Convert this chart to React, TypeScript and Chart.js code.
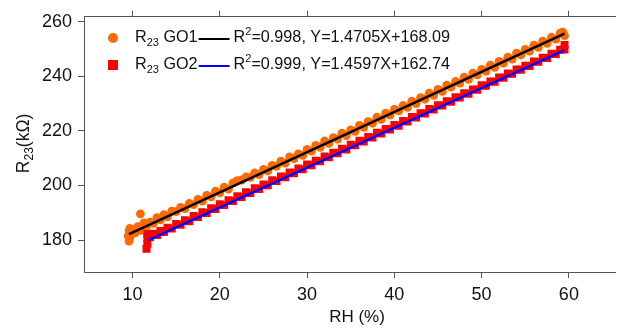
import React, { useEffect, useRef } from "react";
import { Chart, registerables } from "chart.js";

Chart.register(...registerables);

// ---- data ----
const rhGO1 = [9.5, 9.6, 9.6, 9.7, 9.7, 9.8, 10.0, 10.3, 10.6, 10.9, 11.0, 11.3, 11.6, 12.0, 12.4, 12.8, 13.2, 13.6, 14.0, 14.5, 15.0, 15.5, 16.0, 16.5, 17.0, 17.5, 18.0, 18.5, 19.0, 19.5, 20.0, 20.5, 21.0, 21.5, 22.0, 22.5, 23.0, 23.5, 24.0, 24.5, 25.0, 25.5, 26.0, 26.5, 27.0, 27.5, 28.0, 28.5, 29.0, 29.5, 30.0, 30.5, 31.0, 31.5, 32.0, 32.5, 33.0, 33.5, 34.0, 34.5, 35.0, 35.5, 36.0, 36.5, 37.0, 37.5, 38.0, 38.5, 39.0, 39.5, 40.0, 40.5, 41.0, 41.5, 42.0, 42.5, 43.0, 43.5, 44.0, 44.5, 45.0, 45.5, 46.0, 46.5, 47.0, 47.5, 48.0, 48.5, 49.0, 49.5, 50.0, 50.5, 51.0, 51.5, 52.0, 52.5, 53.0, 53.5, 54.0, 54.5, 55.0, 55.5, 56.0, 56.5, 57.0, 57.5, 58.0, 58.5, 59.0, 59.3, 59.5];
const r23GO1 = [181.5, 179.6, 183.4, 181.0, 184.3, 182.4, 183.3, 182.6, 184.9, 189.6, 183.6, 186.3, 185.0, 186.6, 186.1, 188.2, 187.4, 189.3, 188.5, 190.6, 190.4, 192.0, 191.5, 193.4, 193.0, 194.9, 194.3, 196.4, 195.8, 197.9, 197.3, 199.4, 198.7, 200.9, 201.8, 202.0, 203.1, 203.0, 204.6, 204.0, 205.9, 205.3, 207.4, 207.0, 208.9, 208.2, 210.5, 209.8, 211.6, 211.0, 213.2, 212.6, 214.7, 214.0, 216.3, 215.4, 217.5, 217.0, 219.2, 218.3, 220.4, 219.8, 222.0, 221.3, 223.4, 222.8, 225.0, 224.2, 226.5, 225.8, 227.9, 227.3, 229.3, 228.6, 230.9, 230.0, 232.2, 231.6, 233.8, 233.0, 235.2, 234.5, 236.8, 236.0, 238.1, 237.5, 239.7, 238.9, 241.2, 240.5, 242.5, 241.9, 244.1, 243.3, 245.5, 244.8, 247.0, 246.3, 248.5, 247.8, 249.9, 249.2, 251.4, 250.6, 252.9, 252.1, 254.3, 253.6, 255.8, 256.2, 254.9];

const rhGO2 = [11.6, 11.7, 11.7, 11.7, 12.0, 12.4, 12.8, 13.2, 13.6, 14.0, 14.5, 15.0, 15.5, 16.0, 16.5, 17.0, 17.5, 18.0, 18.5, 19.0, 19.5, 20.0, 20.5, 21.0, 21.5, 22.0, 22.5, 23.0, 23.5, 24.0, 24.5, 25.0, 25.5, 26.0, 26.5, 27.0, 27.5, 28.0, 28.5, 29.0, 29.5, 30.0, 30.5, 31.0, 31.5, 32.0, 32.5, 33.0, 33.5, 34.0, 34.5, 35.0, 35.5, 36.0, 36.5, 37.0, 37.5, 38.0, 38.5, 39.0, 39.5, 40.0, 40.5, 41.0, 41.5, 42.0, 42.5, 43.0, 43.5, 44.0, 44.5, 45.0, 45.5, 46.0, 46.5, 47.0, 47.5, 48.0, 48.5, 49.0, 49.5, 50.0, 50.5, 51.0, 51.5, 52.0, 52.5, 53.0, 53.5, 54.0, 54.5, 55.0, 55.5, 56.0, 56.5, 57.0, 57.5, 58.0, 58.5, 59.0, 59.5, 59.5];
const r23GO2 = [176.8, 178.6, 180.8, 182.2, 181.0, 182.3, 181.8, 183.3, 182.9, 184.5, 184.2, 185.9, 185.6, 187.3, 186.9, 188.8, 188.4, 190.2, 189.9, 191.7, 191.4, 193.1, 192.8, 194.6, 194.3, 196.1, 195.8, 197.5, 197.2, 199.0, 198.7, 200.4, 200.1, 201.9, 201.6, 203.3, 203.0, 204.8, 204.5, 206.2, 205.9, 207.7, 207.4, 209.1, 208.9, 210.6, 210.3, 212.0, 211.8, 213.5, 213.2, 214.9, 214.7, 216.4, 216.1, 217.8, 217.6, 219.3, 219.0, 220.7, 220.5, 222.2, 221.9, 223.6, 223.4, 225.1, 224.9, 226.5, 226.4, 228.0, 227.8, 229.4, 229.3, 230.9, 230.7, 232.3, 232.2, 233.8, 233.6, 235.2, 235.1, 236.7, 236.5, 238.1, 238.0, 239.6, 239.5, 241.0, 240.9, 242.5, 242.4, 243.9, 243.8, 245.4, 245.3, 246.8, 246.7, 248.3, 248.2, 249.7, 251.5, 249.8];

// fitted lines (end points)
const fitGO1X = [9.6, 59.5];
const fitGO1Y = [182.2, 255.6];
const fitGO2X = [11.8, 59.5];
const fitGO2Y = [180.0, 249.6];

const xTicks = [10, 20, 30, 40, 50, 60];
const yTicks = [180, 200, 220, 240, 260];
const xMin = 4.44;
const xMax = 65.33;
const yMin = 168.3;
const yMax = 261.8;

const legendRows = [
  { name: "GO1", fit: "=0.998, Y=1.4705X+168.09" },
  { name: "GO2", fit: "=0.999, Y=1.4597X+162.74" },
];

const FONT = "'Liberation Sans', Arial, sans-serif";
const ORANGE = "#ff6a00";
const RED = "#ff0000";
const BLUE = "#0000ff";
const AXIS = "#555555";

type Part = { t: string; m?: "sub" | "sup" };

function measureRich(ctx: CanvasRenderingContext2D, parts: Part[], size: number) {
  let w = 0;
  for (const p of parts) {
    const s = p.m ? Math.round(size * 0.68) : size;
    ctx.font = `${s}px ${FONT}`;
    w += ctx.measureText(p.t).width;
  }
  return w;
}

function drawRich(ctx: CanvasRenderingContext2D, x: number, y: number, parts: Part[], size: number) {
  ctx.textBaseline = "middle";
  ctx.textAlign = "left";
  let cx = x;
  for (const p of parts) {
    const s = p.m ? Math.round(size * 0.68) : size;
    ctx.font = `${s}px ${FONT}`;
    const dy = p.m === "sub" ? size * 0.32 : p.m === "sup" ? -size * 0.36 : 0;
    ctx.fillText(p.t, cx, y + dy);
    cx += ctx.measureText(p.t).width;
  }
  return cx;
}

const decorPlugin = {
  id: "decor",
  afterDraw(chart: any) {
    const ctx: CanvasRenderingContext2D = chart.ctx;
    const area = chart.chartArea;
    ctx.save();
    ctx.fillStyle = "#111";

    // y title
    const yParts: Part[] = [{ t: "R" }, { t: "23", m: "sub" }, { t: "(kΩ)" }];
    const yw = measureRich(ctx, yParts, 17.5);
    ctx.save();
    ctx.translate(24, (area.top + area.bottom) / 2 - 1);
    ctx.rotate(-Math.PI / 2);
    drawRich(ctx, -yw / 2, 0, yParts, 17.5);
    ctx.restore();

    // x title
    ctx.font = `17px ${FONT}`;
    ctx.textAlign = "center";
    ctx.textBaseline = "middle";
    ctx.fillText("RH (%)", 357, 317);

    // legend
    const rowsY = [38, 65];
    legendRows.forEach((row, i) => {
      const y = rowsY[i];
      if (i === 0) {
        ctx.fillStyle = ORANGE;
        ctx.beginPath();
        ctx.arc(113, y, 5, 0, Math.PI * 2);
        ctx.fill();
      } else {
        ctx.fillStyle = RED;
        ctx.fillRect(108, y - 5, 10, 10);
      }
      ctx.fillStyle = "#111";
      const end = drawRich(ctx, 135, y, [{ t: "R" }, { t: "23", m: "sub" }, { t: " " + row.name }], 16.2);
      ctx.strokeStyle = i === 0 ? "#000" : BLUE;
      ctx.lineWidth = 2;
      ctx.beginPath();
      ctx.moveTo(end + 1, y + 1);
      ctx.lineTo(end + 32, y + 1);
      ctx.stroke();
      ctx.fillStyle = "#111";
      drawRich(ctx, end + 36, y, [{ t: "R" }, { t: "2", m: "sup" }, { t: row.fit }], 16.2);
    });
    ctx.restore();
  },
};

export default function App() {
  const ref = useRef<HTMLCanvasElement>(null);
  useEffect(() => {
    if (!ref.current) return;
    const pts = (xs: number[], ys: number[]) => xs.map((x, i) => ({ x, y: ys[i] }));
    const tickFont = { family: FONT, size: 18 };
    const chart = new Chart(ref.current, {
      type: "scatter",
      data: {
        datasets: [
          {
            label: "fit GO1",
            type: "line",
            data: pts(fitGO1X, fitGO1Y),
            borderColor: "#000",
            borderWidth: 2.5,
            pointRadius: 0,
            order: 0,
          },
          {
            label: "fit GO2",
            type: "line",
            data: pts(fitGO2X, fitGO2Y),
            borderColor: BLUE,
            borderWidth: 2.5,
            pointRadius: 0,
            order: 0,
          },
          {
            label: "R23 GO1",
            data: pts(rhGO1, r23GO1),
            backgroundColor: ORANGE,
            borderColor: ORANGE,
            borderWidth: 0,
            pointRadius: 4.4,
            pointStyle: "circle",
            order: 2,
          },
          {
            label: "R23 GO2",
            data: pts(rhGO2, r23GO2),
            backgroundColor: RED,
            borderColor: RED,
            borderWidth: 0,
            pointRadius: 5.6,
            pointStyle: "rect",
            order: 1,
          },
        ],
      },
      options: {
        responsive: false,
        animation: false,
        layout: { padding: 0 },
        plugins: { legend: { display: false }, tooltip: { enabled: false } },
        scales: {
          x: {
            type: "linear",
            position: "bottom",
            min: xMin,
            max: xMax,
            afterBuildTicks: (s: any) => {
              s.ticks = xTicks.map((v) => ({ value: v }));
            },
            afterFit: (s: any) => {
              s.height = 56;
            },
            ticks: { font: tickFont, color: "#111", padding: 6, maxRotation: 0 },
            grid: { drawOnChartArea: false, drawTicks: true, tickLength: 6, color: AXIS },
            border: { color: AXIS, width: 1 },
          },
          xTop: {
            type: "linear",
            position: "top",
            min: xMin,
            max: xMax,
            afterBuildTicks: (s: any) => {
              s.ticks = xTicks.map((v) => ({ value: v }));
            },
            afterFit: (s: any) => {
              s.height = 14;
            },
            ticks: { display: false },
            grid: { drawOnChartArea: false, drawTicks: true, tickLength: 6, color: AXIS },
            border: { color: AXIS, width: 1 },
          },
          y: {
            type: "linear",
            position: "left",
            min: yMin,
            max: yMax,
            afterBuildTicks: (s: any) => {
              s.ticks = yTicks.map((v) => ({ value: v }));
            },
            afterFit: (s: any) => {
              s.width = 84;
            },
            ticks: { font: tickFont, color: "#111", padding: 6 },
            grid: { drawOnChartArea: false, drawTicks: true, tickLength: 6, color: AXIS },
            border: { color: AXIS, width: 1 },
          },
        },
      } as any,
      plugins: [decorPlugin],
    });
    return () => chart.destroy();
  }, []);
  return (
    <div style={{ position: "fixed", left: 0, top: 0, width: 621, height: 328, background: "#fff" }}>
      <canvas ref={ref} width={621} height={328} style={{ display: "block", width: 621, height: 328 }} />
    </div>
  );
}
